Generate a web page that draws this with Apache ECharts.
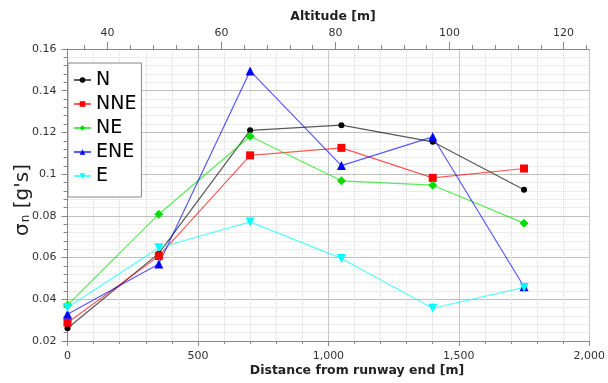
<!DOCTYPE html>
<html>
<head>
<meta charset="utf-8">
<script src="https://cdn.jsdelivr.net/npm/echarts@6/dist/echarts.min.js"></script>
<style>
  html, body { margin: 0; padding: 0; background: #fff; }
  #chart { width: 608px; height: 383px; }
</style>
</head>
<body>
<div id="chart"></div>
<script>
  // distance from runway end [m]
  var distances = [0, 350, 700, 1050, 1400, 1750]
  var seriesNames = ['N', 'NNE', 'NE', 'ENE', 'E']
  var valN   = [0.0261, 0.0620, 0.1210, 0.1235, 0.1155, 0.0925]
  var valNNE = [0.0288, 0.0607, 0.1090, 0.1126, 0.0982, 0.1027]
  var valNE  = [0.0372, 0.0808, 0.1182, 0.0968, 0.0947, 0.0765]
  var valENE = [0.0328, 0.0569, 0.1495, 0.1041, 0.1179, 0.0460]
  var valE   = [0.0361, 0.0647, 0.0771, 0.0596, 0.0357, 0.0457]
  // altitude axis ticks [m]
  var altMajor = [40, 60, 80, 100, 120]
  var altMinor = [36, 44, 48, 52, 56, 64, 68, 72, 76, 84, 88, 92, 96, 104, 108, 112, 116, 124]

  var font = 'DejaVu Sans'
  var colors = ['#000000', '#ff0000', '#00e000', '#0000ff', '#00ffff']
  var symbols = ['circle', 'rect', 'diamond', 'triangle', 'triangle']
  var sizes = [6, 8, 9, 9, 9]
  var rotates = [0, 0, 0, 0, 180]
  var allVals = [valN, valNNE, valNE, valENE, valE]

  var myChart = echarts.init(document.getElementById('chart'))

  var series = seriesNames.map(function (name, i) {
    return {
      name: name,
      type: 'line',
      xAxisIndex: 0,
      yAxisIndex: 0,
      data: distances.map(function (d, k) { return [d, allVals[i][k]] }),
      symbol: symbols[i],
      symbolSize: sizes[i],
      symbolRotate: rotates[i],
      showAllSymbol: true,
      itemStyle: { color: colors[i] },
      lineStyle: { color: colors[i], width: 1.2, opacity: 0.65 },
      emphasis: { disabled: true },
      animation: false
    }
  })

  var option = {
    backgroundColor: '#fff',
    grid: { left: 67.5, right: 18, top: 49, bottom: 42 },
    legend: {
      orient: 'vertical',
      left: 68,
      top: 63,
      data: seriesNames,
      backgroundColor: '#fff',
      borderColor: '#888',
      borderWidth: 1,
      padding: [7, 5, 11, 5],
      itemWidth: 17,
      itemHeight: 7,
      itemGap: 4,
      textStyle: { fontFamily: font, fontSize: 19, lineHeight: 20, color: '#000' }
    },
    xAxis: [
      {
        type: 'value',
        position: 'bottom',
        min: 0,
        max: 2000,
        interval: 500,
        axisLine: { show: true, onZero: false, lineStyle: { color: '#888' } },
        axisTick: { show: true, length: 5, lineStyle: { color: '#888' } },
        minorTick: { show: true, splitNumber: 5, length: 3, lineStyle: { color: '#888' } },
        axisLabel: {
          margin: 10,
          fontFamily: font, fontSize: 11, color: '#333',
          formatter: function (v) { return v.toLocaleString('en-US') }
        },
        splitLine: { show: true, lineStyle: { color: '#c8c8c8', width: 1 } },
        minorSplitLine: { show: true, lineStyle: { color: '#d8d8d8', type: 'dotted', width: 1 } }
      },
      {
        type: 'value',
        position: 'top',
        min: 33,
        max: 124.5,
        axisLine: { show: true, onZero: false, lineStyle: { color: '#888' } },
        axisTick: { show: true, length: 7, customValues: altMajor, lineStyle: { color: '#888' } },
        axisLabel: { show: true, customValues: altMajor, margin: 10, fontFamily: font, fontSize: 11, color: '#333' },
        splitLine: { show: false }
      },
      {
        type: 'value',
        position: 'top',
        offset: 0,
        min: 33,
        max: 124.5,
        axisLine: { show: false },
        axisTick: { show: true, length: 4, customValues: altMinor, lineStyle: { color: '#888' } },
        axisLabel: { show: false },
        splitLine: { show: false }
      }
    ],
    yAxis: {
      type: 'value',
      min: 0.02,
      max: 0.16,
      interval: 0.02,
      axisLine: { show: true, onZero: false, lineStyle: { color: '#888' } },
      axisTick: { show: true, length: 6, lineStyle: { color: '#888' } },
      minorTick: { show: true, splitNumber: 5, length: 4, lineStyle: { color: '#888' } },
      axisLabel: { margin: 11, fontFamily: font, fontSize: 11, color: '#333' },
      splitLine: { show: true, lineStyle: { color: '#c0c0c0', width: 1 } },
      minorSplitLine: { show: true, lineStyle: { color: '#d8d8d8', type: 'dotted', width: 1 } }
    },
    graphic: [
      {
        type: 'text',
        x: 333, y: 17,
        style: {
          text: 'Altitude [m]',
          font: 'bold 12.5px "DejaVu Sans"', fill: '#222',
          align: 'center', verticalAlign: 'middle'
        }
      },
      {
        type: 'text',
        x: 357, y: 371,
        style: {
          text: 'Distance from runway end [m]',
          font: 'bold 12.5px "DejaVu Sans"', fill: '#222',
          align: 'center', verticalAlign: 'middle'
        }
      },
      {
        type: 'text',
        x: 23, y: 200,
        rotation: Math.PI / 2,
        style: {
          text: '{s|σ}{n|n}{s| [g\'s]}',
          align: 'center', verticalAlign: 'middle',
          fill: '#222',
          rich: {
            s: { fontFamily: font, fontSize: 20, fill: '#222' },
            n: { fontFamily: font, fontSize: 12, fill: '#222', padding: [6, 0, 0, 1] }
          }
        }
      }
    ],
    series: series
  }
  myChart.setOption(option)
</script>
</body>
</html>
